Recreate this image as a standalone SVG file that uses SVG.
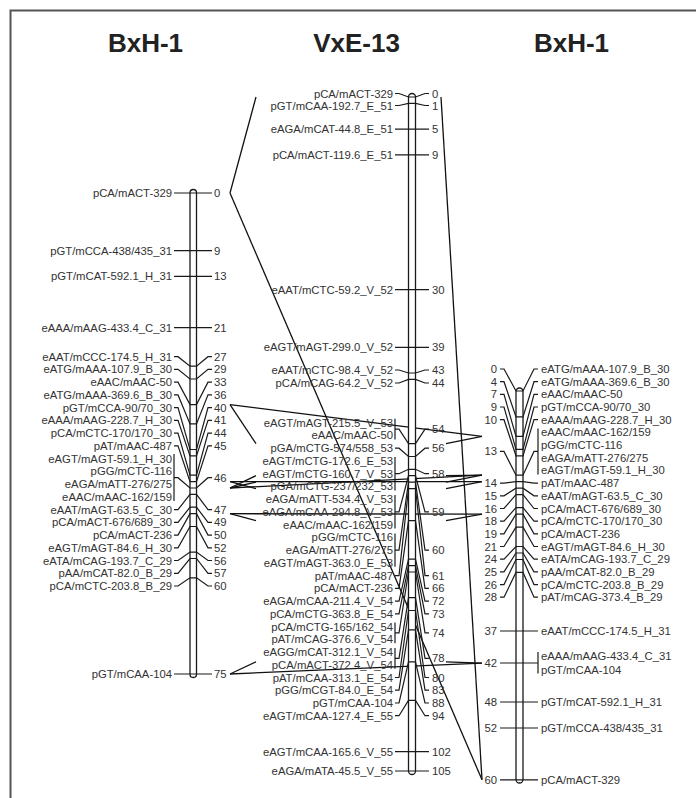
<svg xmlns="http://www.w3.org/2000/svg" width="696" height="798" viewBox="0 0 696 798">
<style>
.t{font-family:"Liberation Sans",Arial,sans-serif;font-size:11.3px;fill:#333}
.e{text-anchor:end}
.ttl{font-family:"Liberation Sans",Arial,sans-serif;font-size:26px;font-weight:bold;fill:#222;text-anchor:middle}
.ln{fill:none;stroke:#1a1a1a;stroke-width:1.2}
.bar{fill:#fff;stroke:#1a1a1a;stroke-width:1.3}
.hl{fill:none;stroke:#111;stroke-width:1.3}
</style>
<rect x="0" y="0" width="696" height="798" fill="#fff"/>
<rect x="10.5" y="10.5" width="700" height="800" fill="none" stroke="#555" stroke-width="2"/>
<g id="titles">
<text class="ttl" x="145.5" y="52">BxH-1</text>
<text class="ttl" x="356.5" y="52">VxE-13</text>
<text class="ttl" x="571.5" y="52">BxH-1</text>
</g>

<g id="connectors">
<!-- left to middle -->
<line class="hl" x1="230" y1="193" x2="256" y2="97"/>
<line class="hl" x1="230" y1="404.6" x2="256" y2="443.6"/>
<line class="hl" x1="230" y1="481.6" x2="256" y2="488.6"/>
<line class="hl" x1="230" y1="488" x2="256" y2="475.7"/>
<line class="hl" x1="230" y1="488" x2="256" y2="482.1"/>
<line class="hl" x1="230" y1="513.7" x2="256" y2="520.7"/>
<line class="hl" x1="230" y1="674" x2="256" y2="661.9"/>
<!-- middle to right -->
<line class="hl" x1="441" y1="97" x2="482" y2="779.8"/>
<line class="hl" x1="446" y1="443.6" x2="482" y2="436.4"/>
<line class="hl" x1="446" y1="475.7" x2="482" y2="475.2"/>
<line class="hl" x1="446" y1="482.1" x2="482" y2="475.2"/>
<line class="hl" x1="446" y1="488.6" x2="482" y2="481.7"/>
<line class="hl" x1="446" y1="520.7" x2="482" y2="514.1"/>
<line class="hl" x1="446" y1="661.9" x2="482" y2="663.2"/>
<!-- left to right -->
<line class="hl" x1="230" y1="193" x2="482" y2="779.8"/>
<line class="hl" x1="230" y1="404.6" x2="482" y2="436.4"/>
<line class="hl" x1="230" y1="481.6" x2="482" y2="481.7"/>
<line class="hl" x1="230" y1="488" x2="482" y2="475.2"/>
<line class="hl" x1="230" y1="513.7" x2="482" y2="514.1"/>
<line class="hl" x1="230" y1="674" x2="482" y2="663.2"/>
</g>

<g id="left-chr">
<rect class="bar" x="190" y="189.5" width="6.5" height="488" rx="3.2"/>
<g class="ln">
<line x1="174" y1="193" x2="212" y2="193"/>
<line x1="174" y1="250.7" x2="212" y2="250.7"/>
<line x1="174" y1="276.4" x2="212" y2="276.4"/>
<line x1="174" y1="327.7" x2="212" y2="327.7"/>
<polyline points="174,356.7 178,356.7 190,366.2 196.5,366.2 208,356.7 212,356.7"/>
<polyline points="174,369.4 178,369.4 190,379 196.5,379 208,369.4 212,369.4"/>
<polyline points="174,382.2 178,382.2 190,404.6 196.5,404.6 208,382.2 212,382.2"/>
<polyline points="174,394.9 178,394.9 190,423.9 196.5,423.9 208,394.9 212,394.9"/>
<polyline points="174,407.7 178,407.7 190,449.5 196.5,449.5 208,407.7 212,407.7"/>
<polyline points="174,420.4 178,420.4 190,455.9 196.5,455.9 208,420.4 212,420.4"/>
<polyline points="174,433.1 178,433.1 190,475.2 196.5,475.2 208,433.1 212,433.1"/>
<polyline points="174,445.9 178,445.9 190,481.6 196.5,481.6 208,445.9 212,445.9"/>
<line x1="174" y1="454" x2="174" y2="501"/>
<polyline points="174,477.7 178,477.7 190,488 196.5,488 208,477.7 212,477.7"/>
<polyline points="174,509.6 178,509.6 190,494.4 196.5,494.4 208,509.6 212,509.6"/>
<polyline points="174,522.3 178,522.3 190,507.2 196.5,507.2 208,522.3 212,522.3"/>
<polyline points="174,535.1 178,535.1 190,513.7 196.5,513.7 208,535.1 212,535.1"/>
<polyline points="174,547.8 178,547.8 190,526.5 196.5,526.5 208,547.8 212,547.8"/>
<polyline points="174,560.5 178,560.5 190,552.1 196.5,552.1 208,560.5 212,560.5"/>
<polyline points="174,573.3 178,573.3 190,558.5 196.5,558.5 208,573.3 212,573.3"/>
<polyline points="174,586 178,586 190,577.8 196.5,577.8 208,586 212,586"/>
<line x1="174" y1="674" x2="212" y2="674"/>
</g>
<g class="t e">
<text x="172" y="197">pCA/mACT-329</text>
<text x="172" y="254.7">pGT/mCCA-438/435_31</text>
<text x="172" y="280.4">pGT/mCAT-592.1_H_31</text>
<text x="172" y="331.7">eAAA/mAAG-433.4_C_31</text>
<text x="172" y="360.7">eAAT/mCCC-174.5_H_31</text>
<text x="172" y="373.4">eATG/mAAA-107.9_B_30</text>
<text x="172" y="386.2">eAAC/mAAC-50</text>
<text x="172" y="398.9">eATG/mAAA-369.6_B_30</text>
<text x="172" y="411.7">pGT/mCCA-90/70_30</text>
<text x="172" y="424.4">eAAA/mAAG-228.7_H_30</text>
<text x="172" y="437.1">pCA/mCTC-170/170_30</text>
<text x="172" y="449.9">pAT/mAAC-487</text>
<text x="172" y="462.6">eAGT/mAGT-59.1_H_30</text>
<text x="172" y="475.4">pGG/mCTC-116</text>
<text x="172" y="488.1">eAGA/mATT-276/275</text>
<text x="172" y="500.8">eAAC/mAAC-162/159</text>
<text x="172" y="513.6">eAAT/mAGT-63.5_C_30</text>
<text x="172" y="526.3">pCA/mACT-676/689_30</text>
<text x="172" y="539.1">pCA/mACT-236</text>
<text x="172" y="551.8">eAGT/mAGT-84.6_H_30</text>
<text x="172" y="564.5">eATA/mCAG-193.7_C_29</text>
<text x="172" y="577.3">pAA/mCAT-82.0_B_29</text>
<text x="172" y="590">pCA/mCTC-203.8_B_29</text>
<text x="172" y="678">pGT/mCAA-104</text>
</g>
<g class="t">
<text x="214" y="197">0</text>
<text x="214" y="254.7">9</text>
<text x="214" y="280.4">13</text>
<text x="214" y="331.7">21</text>
<text x="214" y="360.7">27</text>
<text x="214" y="373.4">29</text>
<text x="214" y="386.2">33</text>
<text x="214" y="398.9">36</text>
<text x="214" y="411.7">40</text>
<text x="214" y="424.4">41</text>
<text x="214" y="437.1">44</text>
<text x="214" y="449.9">45</text>
<text x="214" y="481.7">46</text>
<text x="214" y="513.6">47</text>
<text x="214" y="526.3">49</text>
<text x="214" y="539.1">50</text>
<text x="214" y="551.8">52</text>
<text x="214" y="564.5">56</text>
<text x="214" y="577.3">57</text>
<text x="214" y="590">60</text>
<text x="214" y="678">75</text>
</g>
</g>

<g id="middle-chr">
<rect class="bar" x="408.5" y="93.5" width="7" height="681" rx="3.5"/>
<g class="ln">
<polyline points="395,93.5 399,93.5 408.5,97 415.5,97 425,93.5 429,93.5"/>
<polyline points="395,105.5 399,105.5 408.5,103.4 415.5,103.4 425,105.5 429,105.5"/>
<line x1="395" y1="129.1" x2="429" y2="129.1"/>
<line x1="395" y1="154.8" x2="429" y2="154.8"/>
<line x1="395" y1="289.6" x2="429" y2="289.6"/>
<line x1="395" y1="347.3" x2="429" y2="347.3"/>
<polyline points="395,370 399,370 408.5,373 415.5,373 425,370 429,370"/>
<polyline points="395,383 399,383 408.5,379.4 415.5,379.4 425,383 429,383"/>
<line x1="395" y1="418.7" x2="395" y2="439.4"/>
<polyline points="395,429.1 399,429.1 408.5,443.6 415.5,443.6 425,429.1 429,429.1"/>
<polyline points="395,448.2 399,448.2 408.5,456.5 415.5,456.5 425,448.2 429,448.2"/>
<line x1="395" y1="456.9" x2="395" y2="490.4"/>
<polyline points="395,473.7 399,473.7 408.5,469.3 415.5,469.3 425,473.7 429,473.7"/>
<line x1="395" y1="495.1" x2="395" y2="528.6"/>
<polyline points="395,511.9 399,511.9 408.5,475.7 415.5,475.7 425,511.9 429,511.9"/>
<line x1="395" y1="533.4" x2="395" y2="566.8"/>
<polyline points="395,550.1 399,550.1 408.5,482.1 415.5,482.1 425,550.1 429,550.1"/>
<polyline points="395,575.6 399,575.6 408.5,488.6 415.5,488.6 425,575.6 429,575.6"/>
<polyline points="395,588.3 399,588.3 408.5,520.7 415.5,520.7 425,588.3 429,588.3"/>
<polyline points="395,601.1 399,601.1 408.5,559.2 415.5,559.2 425,601.1 429,601.1"/>
<polyline points="395,613.8 399,613.8 408.5,565.6 415.5,565.6 425,613.8 429,613.8"/>
<line x1="395" y1="622.5" x2="395" y2="643.3"/>
<polyline points="395,632.9 399,632.9 408.5,572 415.5,572 425,632.9 429,632.9"/>
<line x1="395" y1="648" x2="395" y2="668.8"/>
<polyline points="395,658.4 399,658.4 408.5,597.7 415.5,597.7 425,658.4 429,658.4"/>
<polyline points="395,677.5 399,677.5 408.5,610.5 415.5,610.5 425,677.5 429,677.5"/>
<polyline points="395,690.2 399,690.2 408.5,629.8 415.5,629.8 425,690.2 429,690.2"/>
<polyline points="395,703 399,703 408.5,661.9 415.5,661.9 425,703 429,703"/>
<polyline points="395,715.7 399,715.7 408.5,700.4 415.5,700.4 425,715.7 429,715.7"/>
<line x1="395" y1="751.7" x2="429" y2="751.7"/>
<line x1="395" y1="771" x2="429" y2="771"/>
</g>
<g class="t e">
<text x="393" y="97.5">pCA/mACT-329</text>
<text x="393" y="109.5">pGT/mCAA-192.7_E_51</text>
<text x="393" y="133.1">eAGA/mCAT-44.8_E_51</text>
<text x="393" y="158.8">pCA/mACT-119.6_E_51</text>
<text x="393" y="293.6">eAAT/mCTC-59.2_V_52</text>
<text x="393" y="351.3">eAGT/mAGT-299.0_V_52</text>
<text x="393" y="374">eAAT/mCTC-98.4_V_52</text>
<text x="393" y="387">pCA/mCAG-64.2_V_52</text>
<text x="393" y="426.7">eAGT/mAGT-215.5_V_53</text>
<text x="393" y="439.4">eAAC/mAAC-50</text>
<text x="393" y="452.2">pGA/mCTG-574/558_53</text>
<text x="393" y="464.9">eAGT/mCTG-172.6_E_53</text>
<text x="393" y="477.7">eAGT/mCTG-160.7_V_53</text>
<text x="393" y="490.4">pGA/mCTG-237/232_53</text>
<text x="393" y="503.1">eAGA/mATT-534.4_V_53</text>
<text x="393" y="515.9">eAGA/mCAA-294.8_V_53</text>
<text x="393" y="528.6">eAAC/mAAC-162/159</text>
<text x="393" y="541.4">pGG/mCTC-116</text>
<text x="393" y="554.1">eAGA/mATT-276/275</text>
<text x="393" y="566.8">eAGT/mAGT-363.0_E_53</text>
<text x="393" y="579.6">pAT/mAAC-487</text>
<text x="393" y="592.3">pCA/mACT-236</text>
<text x="393" y="605.1">eAGA/mCAA-211.4_V_54</text>
<text x="393" y="617.8">pCA/mCTG-363.8_E_54</text>
<text x="393" y="630.5">pCA/mCTG-165/162_54</text>
<text x="393" y="643.3">pAT/mCAG-376.6_V_54</text>
<text x="393" y="656">eAGG/mCAT-312.1_V_54</text>
<text x="393" y="668.8">pCA/mACT-372.4_V_54</text>
<text x="393" y="681.5">pAT/mCAA-313.1_E_54</text>
<text x="393" y="694.2">pGG/mCGT-84.0_E_54</text>
<text x="393" y="707">pGT/mCAA-104</text>
<text x="393" y="719.7">eAGT/mCAA-127.4_E_55</text>
<text x="393" y="755.7">eAGT/mCAA-165.6_V_55</text>
<text x="393" y="775">eAGA/mATA-45.5_V_55</text>
</g>
<g class="t">
<text x="432" y="97.5">0</text>
<text x="432" y="109.5">1</text>
<text x="432" y="133.1">5</text>
<text x="432" y="158.8">9</text>
<text x="432" y="293.6">30</text>
<text x="432" y="351.3">39</text>
<text x="432" y="374">43</text>
<text x="432" y="387">44</text>
<text x="432" y="433.1">54</text>
<text x="432" y="452.2">56</text>
<text x="432" y="477.7">58</text>
<text x="432" y="515.9">59</text>
<text x="432" y="554.1">60</text>
<text x="432" y="579.6">61</text>
<text x="432" y="592.3">66</text>
<text x="432" y="605.1">72</text>
<text x="432" y="617.8">73</text>
<text x="432" y="636.9">74</text>
<text x="432" y="662.4">78</text>
<text x="432" y="681.5">80</text>
<text x="432" y="694.2">83</text>
<text x="432" y="707">88</text>
<text x="432" y="719.7">94</text>
<text x="432" y="755.7">102</text>
<text x="432" y="775">105</text>
</g>
</g>

<g id="right-chr">
<rect class="bar" x="516" y="388" width="7" height="395" rx="3.5"/>
<g class="ln">
<polyline points="500,369 504,369 516,391 523,391 534,369 538,369"/>
<polyline points="500,381.7 504,381.7 516,416.9 523,416.9 534,381.7 538,381.7"/>
<polyline points="500,394.4 504,394.4 516,436.4 523,436.4 534,394.4 538,394.4"/>
<polyline points="500,407 504,407 516,449.3 523,449.3 534,407 538,407"/>
<polyline points="500,419.7 504,419.7 516,455.8 523,455.8 534,419.7 538,419.7"/>
<line x1="538" y1="428.4" x2="538" y2="474.4"/>
<polyline points="500,451.4 504,451.4 516,475.2 523,475.2 534,451.4 538,451.4"/>
<polyline points="500,483.1 504,483.1 516,481.7 523,481.7 534,483.1 538,483.1"/>
<polyline points="500,495.8 504,495.8 516,488.2 523,488.2 534,495.8 538,495.8"/>
<polyline points="500,508.5 504,508.5 516,494.7 523,494.7 534,508.5 538,508.5"/>
<polyline points="500,521.2 504,521.2 516,507.6 523,507.6 534,521.2 538,521.2"/>
<polyline points="500,533.8 504,533.8 516,514.1 523,514.1 534,533.8 538,533.8"/>
<polyline points="500,546.5 504,546.5 516,527.1 523,527.1 534,546.5 538,546.5"/>
<polyline points="500,559.2 504,559.2 516,546.5 523,546.5 534,559.2 538,559.2"/>
<polyline points="500,571.9 504,571.9 516,553 523,553 534,571.9 538,571.9"/>
<polyline points="500,584.6 504,584.6 516,559.5 523,559.5 534,584.6 538,584.6"/>
<polyline points="500,597.2 504,597.2 516,572.4 523,572.4 534,597.2 538,597.2"/>
<line x1="500" y1="631" x2="538" y2="631"/>
<line x1="538" y1="652" x2="538" y2="673.5"/>
<line x1="500" y1="663" x2="538" y2="663"/>
<line x1="500" y1="702" x2="538" y2="702"/>
<line x1="500" y1="728" x2="538" y2="728"/>
<line x1="500" y1="779.8" x2="538" y2="779.8"/>
</g>
<g class="t e">
<text x="497" y="373">0</text>
<text x="497" y="385.7">4</text>
<text x="497" y="398.4">7</text>
<text x="497" y="411">9</text>
<text x="497" y="423.7">10</text>
<text x="497" y="455.4">13</text>
<text x="497" y="487.1">14</text>
<text x="497" y="499.8">15</text>
<text x="497" y="512.5">16</text>
<text x="497" y="525.2">18</text>
<text x="497" y="537.8">19</text>
<text x="497" y="550.5">21</text>
<text x="497" y="563.2">24</text>
<text x="497" y="575.9">25</text>
<text x="497" y="588.6">26</text>
<text x="497" y="601.2">28</text>
<text x="497" y="635">37</text>
<text x="497" y="667">42</text>
<text x="497" y="706">48</text>
<text x="497" y="732">52</text>
<text x="497" y="783.8">60</text>
</g>
<g class="t">
<text x="541" y="373">eATG/mAAA-107.9_B_30</text>
<text x="541" y="385.7">eATG/mAAA-369.6_B_30</text>
<text x="541" y="398.4">eAAC/mAAC-50</text>
<text x="541" y="411">pGT/mCCA-90/70_30</text>
<text x="541" y="423.7">eAAA/mAAG-228.7_H_30</text>
<text x="541" y="436.4">eAAC/mAAC-162/159</text>
<text x="541" y="449.1">pGG/mCTC-116</text>
<text x="541" y="461.8">eAGA/mATT-276/275</text>
<text x="541" y="474.4">eAGT/mAGT-59.1_H_30</text>
<text x="541" y="487.1">pAT/mAAC-487</text>
<text x="541" y="499.8">eAAT/mAGT-63.5_C_30</text>
<text x="541" y="512.5">pCA/mACT-676/689_30</text>
<text x="541" y="525.2">pCA/mCTC-170/170_30</text>
<text x="541" y="537.8">pCA/mACT-236</text>
<text x="541" y="550.5">eAGT/mAGT-84.6_H_30</text>
<text x="541" y="563.2">eATA/mCAG-193.7_C_29</text>
<text x="541" y="575.9">pAA/mCAT-82.0_B_29</text>
<text x="541" y="588.6">pCA/mCTC-203.8_B_29</text>
<text x="541" y="601.2">pAT/mCAG-373.4_B_29</text>
<text x="541" y="635">eAAT/mCCC-174.5_H_31</text>
<text x="541" y="660">eAAA/mAAG-433.4_C_31</text>
<text x="541" y="673.5">pGT/mCAA-104</text>
<text x="541" y="706">pGT/mCAT-592.1_H_31</text>
<text x="541" y="732">pGT/mCCA-438/435_31</text>
<text x="541" y="783.8">pCA/mACT-329</text>
</g>
</g>
</svg>
